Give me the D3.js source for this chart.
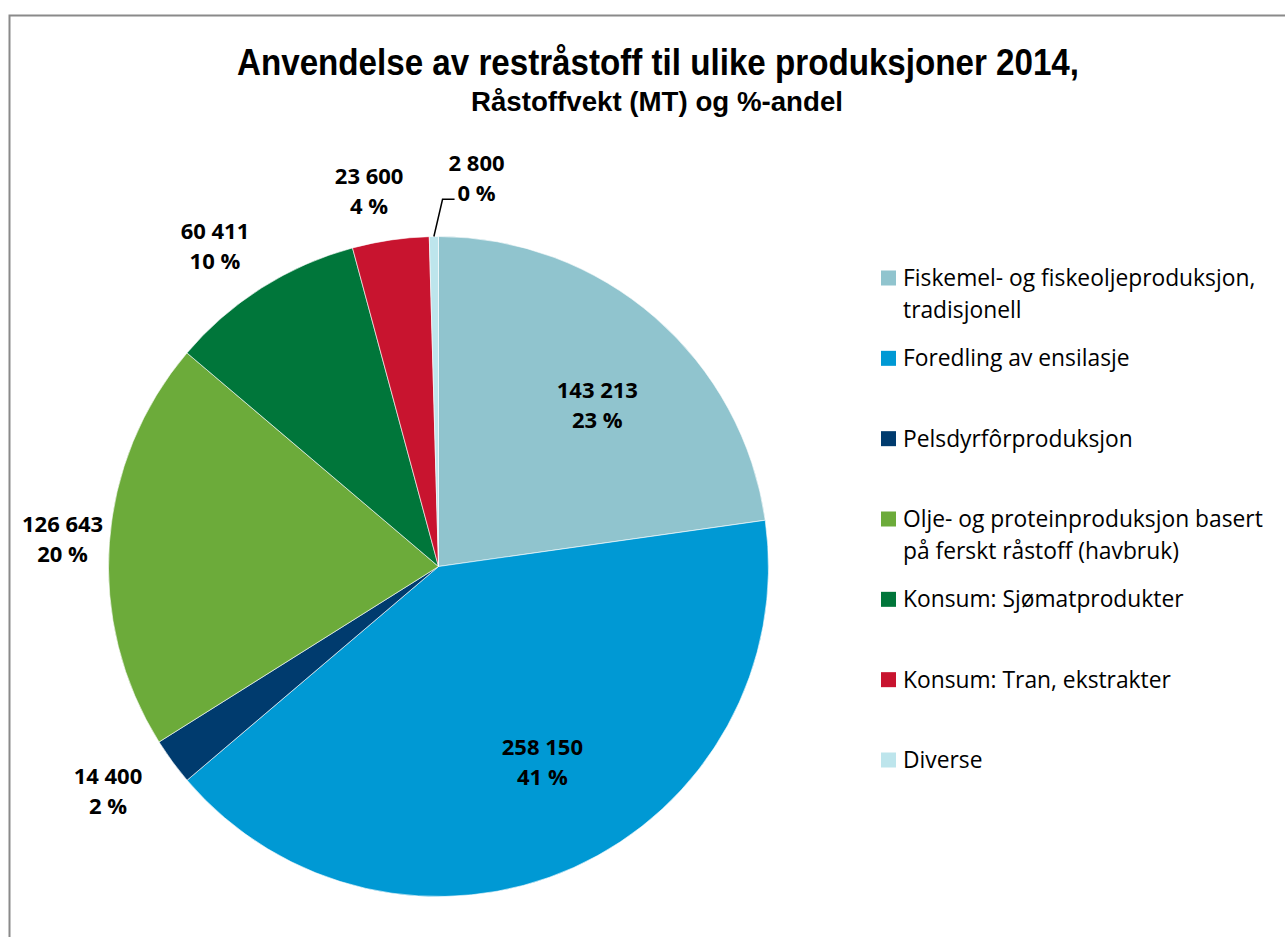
<!DOCTYPE html>
<html>
<head>
<meta charset="utf-8">
<script src="https://cdn.jsdelivr.net/npm/d3@7"></script>
<style>
  html, body { margin: 0; padding: 0; background: #fff; overflow: hidden; }
  svg { display: block; }
</style>
</head>
<body>
<svg id="chart" width="1285" height="937"></svg>
<script>
// Residual raw material usage 2014 (tonnes)
const categories = [
  "Fiskemel- og fiskeoljeproduksjon, tradisjonell",
  "Foredling av ensilasje",
  "Pelsdyrfôrproduksjon",
  "Olje- og proteinproduksjon basert på ferskt råstoff (havbruk)",
  "Konsum: Sjømatprodukter",
  "Konsum: Tran, ekstrakter",
  "Diverse"
];
const values = [143213, 258150, 14400, 126643, 60411, 23600, 2800];
const colors = ["#90C4CE", "#0099D4", "#003B6E", "#6CAB3A", "#00763A", "#C8142F", "#BDE5EC"];
// Legend text split into the lines it wraps onto
const legendLines = [
  ["Fiskemel- og fiskeoljeproduksjon,", "tradisjonell"],
  ["Foredling av ensilasje"],
  ["Pelsdyrfôrproduksjon"],
  ["Olje- og proteinproduksjon basert", "på ferskt råstoff (havbruk)"],
  ["Konsum: Sjømatprodukter"],
  ["Konsum: Tran, ekstrakter"],
  ["Diverse"]
];
const titleText = "Anvendelse av restråstoff til ulike produksjoner 2014,";
const subtitleText = "Råstoffvekt (MT) og %-andel";

const svg = d3.select("#chart");
const total = d3.sum(values);
const no = d3.formatLocale({ decimal: ",", thousands: " ", grouping: [3], currency: ["", " kr"] });
const fmt = no.format(",d");

// chart frame
svg.append("rect")
  .attr("x", 9.5).attr("y", 15.5)
  .attr("width", 1400).attr("height", 1000)
  .attr("fill", "none").attr("stroke", "#8a8a8a").attr("stroke-width", 2);

// titles
svg.append("text")
  .attr("x", 658).attr("y", 75)
  .attr("text-anchor", "middle")
  .attr("font-family", "'Liberation Sans Narrow', 'Liberation Sans', Arial, sans-serif")
  .attr("font-weight", "bold").attr("font-size", 37)
  .attr("textLength", 842).attr("lengthAdjust", "spacingAndGlyphs")
  .attr("fill", "#000")
  .text(titleText);
svg.append("text")
  .attr("x", 657).attr("y", 111)
  .attr("text-anchor", "middle")
  .attr("font-family", "'Liberation Sans Narrow', 'Liberation Sans', Arial, sans-serif")
  .attr("font-weight", "bold").attr("font-size", 27)
  .attr("textLength", 372).attr("lengthAdjust", "spacingAndGlyphs")
  .attr("fill", "#000")
  .text(subtitleText);

// pie
const cx = 438.5, cy = 566.5, R = 330;
const pie = d3.pie().sort(null).value(d => d)(values);
const arc = d3.arc().innerRadius(0).outerRadius(R);
const g = svg.append("g").attr("transform", `translate(${cx},${cy})`);

g.selectAll("path.slice")
  .data(pie)
  .join("path")
  .attr("class", "slice")
  .attr("d", arc)
  .attr("fill", (d, i) => colors[i])
  .attr("stroke", "#ffffff")
  .attr("stroke-width", 0.6);

// data labels: large slices inside, the rest on an ellipse around the pie,
// kept inside the plot area's left margin
const labelFont = "'Open Sans', 'Liberation Sans', sans-serif";
const plotLeft = 22;
const onEllipse = (rx, ry, a) => [rx * Math.sin(a), -ry * Math.cos(a)];
pie.forEach((d, i) => {
  const share = d.value / total;
  const mid = (d.startAngle + d.endAngle) / 2;
  let pos, leader = null;
  if (share > 0.21) {
    pos = onEllipse(224, 214, mid);
    pos[0] += 12;
  } else if (share > 0.01) {
    pos = onEllipse(395, 380, mid);
    pos[0] -= 12;
  } else {
    // tiny slice: label pushed aside with a leader line
    const a = mid + 6.4 * Math.PI / 180;
    pos = onEllipse(390, 390, a);
    const edge = onEllipse(R, R, mid);
    leader = [edge, [pos[0] - 34, pos[1] + 21], [pos[0] - 22, pos[1] + 21]];
  }
  const pct = Math.round(share * 100) + " %";
  const t = g.append("text")
    .attr("text-anchor", "middle")
    .attr("font-family", labelFont)
    .attr("font-weight", "bold")
    .attr("font-size", 22)
    .attr("fill", "#000");
  const l1 = t.append("tspan").attr("x", pos[0]).attr("y", pos[1] - 7).text(fmt(d.value));
  const l2 = t.append("tspan").attr("x", pos[0]).attr("y", pos[1] + 23).text(pct);
  const box = t.node().getBBox();
  const overflow = plotLeft - (cx + box.x);
  if (overflow > 0) {
    l1.attr("x", pos[0] + overflow);
    l2.attr("x", pos[0] + overflow);
  }
  if (leader) {
    g.append("path")
      .attr("d", d3.line()(leader))
      .attr("fill", "none").attr("stroke", "#000").attr("stroke-width", 1.5);
  }
});

// legend
const legend = svg.append("g").attr("transform", "translate(881,0)");
const legendY = d3.scalePoint().domain(d3.range(categories.length)).range([278, 760]);
legendLines.forEach((lines, i) => {
  const y = legendY(i);
  legend.append("rect")
    .attr("x", 0).attr("y", y - 7.5)
    .attr("width", 15).attr("height", 15)
    .attr("fill", colors[i]);
  const t = legend.append("text")
    .attr("font-family", "'Open Sans', 'Liberation Sans', sans-serif")
    .attr("font-size", 22.8)
    .attr("fill", "#000");
  lines.forEach((ln, j) => {
    t.append("tspan").attr("x", 22).attr("y", y + 8 + j * 32).text(ln);
  });
});
</script>
</body>
</html>
